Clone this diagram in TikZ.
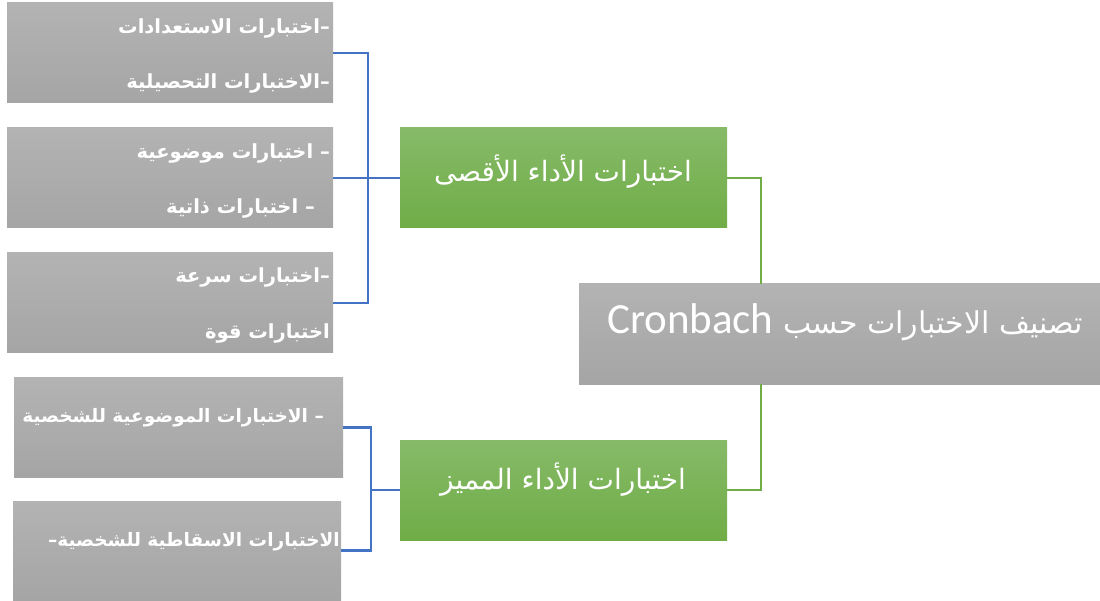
\documentclass[tikz,border=0pt]{standalone}
\usepackage{fontspec}
\TeXXeTstate=1
\newfontfamily\arabicfont[Script=Arabic]{DejaVu Sans}
\newfontfamily\latinfont{Carlito}
\definecolor{grayT}{HTML}{B3B3B3}
\definecolor{grayB}{HTML}{A5A5A5}
\definecolor{greenT}{HTML}{86BA68}
\definecolor{greenB}{HTML}{70AD47}
\definecolor{blueL}{HTML}{4472C4}
\definecolor{greenL}{HTML}{70AD47}
\begin{document}
\begin{tikzpicture}[x=1pt,y=-1pt,
  graybox/.style={rectangle, inner sep=0pt, draw=none, minimum width=326pt, minimum height=100pt, top color=grayT, bottom color=grayB},
  greenbox/.style={rectangle, inner sep=0pt, draw=none, minimum width=327pt, minimum height=100pt, top color=greenT, bottom color=greenB},
  lbl/.style={text=white, inner sep=0pt, font=\arabicfont\bfseries\fontsize{19.5}{23}\selectfont},
  slbl/.style={text=white, inner sep=0pt, font=\arabicfont\bfseries\fontsize{18.5}{22}\selectfont},
  glbl/.style={text=white, inner sep=0pt, font=\arabicfont\fontsize{28}{33}\selectfont},
  blueline/.style={draw=blueL, line width=2.2pt},
  greenline/.style={draw=greenL, line width=2.2pt}]
\useasboundingbox (0,0) rectangle (1100,601);
% left boxes
\node[graybox] (b1) at (170,53) {};
\node[graybox] (b2) at (170,178) {};
\node[graybox] (b3) at (170,303) {};
\node[graybox, minimum width=329pt, minimum height=99pt] (b4) at (178.5,427.5) {};
\node[graybox, minimum width=328pt, minimum height=99pt] (b5) at (177,550.5) {};
% green boxes
\node[greenbox] (g1) at (563.5,178) {};
\node[greenbox] (g2) at (563.5,490) {};
% central box
\node[graybox, minimum width=521pt] (c) at (839.5,334) {};
% texts
\node[lbl, anchor=east] (t1a) at (330,28) {\beginR –اختبارات الاستعدادات\endR};
\node[lbl, anchor=east] (t1b) at (330,83) {\beginR –الاختبارات التحصيلية\endR};
\node[lbl, anchor=east] (t2a) at (330,153) {\beginR – اختبارات موضوعية\endR};
\node[lbl, anchor=east] (t2b) at (315,208) {\beginR – اختبارات ذاتية\endR};
\node[lbl, anchor=east] (t3a) at (330,277) {\beginR –اختبارات سرعة\endR};
\node[lbl, anchor=east] (t3b) at (330,333) {\beginR اختبارات قوة\endR};
\node[slbl, anchor=east] (t4) at (324,418) {\beginR – الاختبارات الموضوعية للشخصية\endR};
\node[slbl, anchor=east] (t5) at (340,542) {\beginR الاختبارات الاسقاطية للشخصية–\endR};
\node[glbl] (tg1) at (563,172) {\beginR اختبارات الأداء الأقصى\endR};
\node[glbl] (tg2) at (563,480) {\beginR اختبارات الأداء المميز\endR};
\node[text=white, inner sep=0pt, anchor=east] (tc) at (1083,322) {\arabicfont\fontsize{30}{36}\selectfont\beginR تصنيف الاختبارات حسب \beginL{\latinfont\fontsize{43}{50}\selectfont Cronbach}\endL\endR};
% connectors
\coordinate (bj) at (368,178);
\coordinate (bj2) at (371,490);
\coordinate (gx) at (761,0);
\draw[blueline] (b1.east) -| (bj) |- (b3.east);
\draw[blueline] (b2.east) -- (g1.west);
\draw[blueline] (b4.east) -| (bj2) |- (b5.east);
\draw[blueline] (bj2) -- (g2.west);
\draw[greenline] (g1.east) -| (gx |- c.north);
\draw[greenline] (gx |- c.south) |- (g2.east);
\end{tikzpicture}
\end{document}
